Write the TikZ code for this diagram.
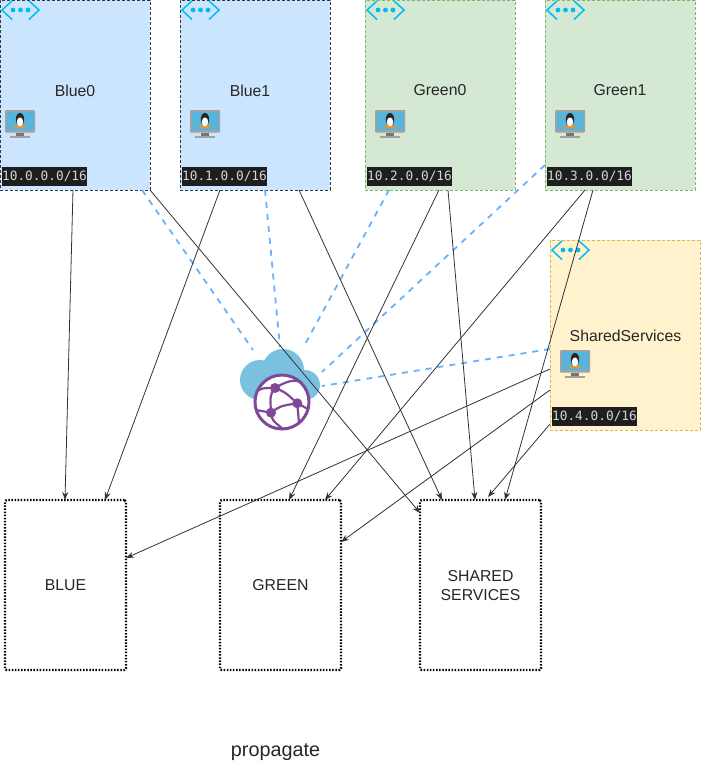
\documentclass[tikz,border=0pt]{standalone}
\usepackage{fontspec}
\setmainfont{Liberation Sans}
\newfontfamily\cidrfont{DejaVu Sans Mono}
\usetikzlibrary{arrows.meta,calc}
\definecolor{bluefill}{HTML}{CCE5FF}
\definecolor{blueedge}{HTML}{36393D}
\definecolor{greenfill}{HTML}{D5E8D4}
\definecolor{greenedge}{HTML}{82B366}
\definecolor{yellowfill}{HTML}{FFF2CC}
\definecolor{yellowedge}{HTML}{D6B656}
\definecolor{linkgrey}{HTML}{333333}
\definecolor{peerblue}{HTML}{66B2FF}
\definecolor{vnetcyan}{HTML}{00BCF2}
\definecolor{cloudblue}{HTML}{7AC1E0}
\definecolor{globepurple}{HTML}{804998}
\definecolor{termbg}{HTML}{1E1E1E}
\definecolor{termfg}{HTML}{D4D4D4}
\definecolor{bezel}{HTML}{A0A1A2}
\definecolor{screenblue}{HTML}{59B4D9}
\definecolor{standgrey}{HTML}{767676}
\definecolor{tuxfoot}{HTML}{E8962A}
\tikzset{
  x=1pt,y=-1pt,
  vnetbox/.style={rectangle,minimum width=150pt,minimum height=190pt,outer sep=0pt,inner sep=0pt,line width=0.8pt,dash pattern=on 3pt off 2pt,anchor=north west,align=center},
  bluebox/.style={vnetbox,fill=bluefill,draw=blueedge},
  greenbox/.style={vnetbox,fill=greenfill,draw=greenedge},
  yellowbox/.style={vnetbox,fill=yellowfill,draw=yellowedge},
  groupbox/.style={rectangle,rounded corners=1.5pt,minimum width=121pt,minimum height=170pt,outer sep=0pt,inner sep=0pt,draw=black,line width=2.4pt,dash pattern=on 1.5pt off 1.6pt,anchor=north west,align=center,font=\fontsize{15.8}{19}\selectfont,text=black!85},
  grouptext/.style={align=center,inner sep=0pt,font=\fontsize{15.8}{19}\selectfont,text=black!85},
  vnettitle/.style={font=\fontsize{15.8}{18}\selectfont,text=black!85,inner sep=0pt},
  cidr/.style={anchor=north west,fill=termbg,text=termfg,font=\cidrfont\fontsize{12.8}{14}\selectfont,inner sep=0pt,minimum width=85pt,minimum height=19pt,outer sep=0pt},
  link/.style={draw=linkgrey,line width=0.8pt,-{Stealth[length=8pt,width=6pt]}},
  peer/.style={draw=peerblue,line width=1.8pt,dash pattern=on 6pt off 6pt},
  chevron/.style={draw=vnetcyan,line width=1.5pt,line join=miter},
  vnetmark/.pic={
    \draw[chevron] (12,1) -- (2,10) -- (12,19.5);
    \draw[chevron] (29,1) -- (39,10) -- (29,19.5);
    \fill[vnetcyan] (13,10) circle (2.4) (20.5,10) circle (2.4) (28,10) circle (2.4);
  },
  linuxvm/.pic={
    \fill[bezel,rounded corners=1pt] (0,0) rectangle (30,22.5);
    \fill[screenblue] (1.5,1.5) rectangle (28.5,19.5);
    \fill[standgrey] (11,22.5) rectangle (19,26);
    \fill[bezel] (5,26) rectangle (25,27.7);
    \fill[black!85] (15,9.5) ellipse (4.2 and 6.5);
    \fill[white] (15,12) ellipse (3.2 and 4.6);
    \fill[tuxfoot] (12,17) ellipse (3 and 1.3) (18,17) ellipse (3 and 1.3);
  },
}
\begin{document}
\begin{tikzpicture}
\useasboundingbox (0,0) rectangle (701,766);
% vnet boxes
\node[bluebox] (blue0) at (0,0) {};
\node[bluebox] (blue1) at (180,0) {};
\node[greenbox] (green0) at (365,0) {};
\node[greenbox] (green1) at (545,0) {};
\node[yellowbox] (shared) at (550,240) {};
% titles
\node[vnettitle] (t0) at (75,90.5) {Blue0};
\node[vnettitle] (t1) at (250,90.5) {Blue1};
\node[vnettitle] (t2) at (440,90.5) {Green0};
\node[vnettitle] (t3) at (620,90.5) {Green1};
\node[vnettitle] (t4) at (625.5,335.5) {SharedServices};
% address labels
\node[cidr] (c0) at (2,167) {10.0.0.0/16};
\node[cidr] (c1) at (182,167) {10.1.0.0/16};
\node[cidr] (c2) at (367,167) {10.2.0.0/16};
\node[cidr] (c3) at (547,167) {10.3.0.0/16};
\node[cidr] (c4) at (552,407) {10.4.0.0/16};
% icons
\pic at (0,0) {vnetmark};
\pic at (180,0) {vnetmark};
\pic at (365,0) {vnetmark};
\pic at (545,0) {vnetmark};
\pic at (550,240) {vnetmark};
\pic at (5,110) {linuxvm};
\pic at (190,110) {linuxvm};
\pic at (375,110) {linuxvm};
\pic at (555,110) {linuxvm};
\pic at (560,350) {linuxvm};
% route tables
\node[groupbox] (blue) at (5,500) {};
\node[groupbox] (green) at (220,500) {};
\node[groupbox] (services) at (420,500) {};
\node[grouptext] (bluet) at (65.5,585.5) {BLUE};
\node[grouptext] (greent) at (280.5,585.5) {GREEN};
\node[grouptext] (servicest) at (480.5,585.5) {SHARED\\SERVICES};
\node[font=\fontsize{19.8}{22}\selectfont,text=black!85,inner sep=0pt] (prop) at (275.5,752) {propagate};
% virtual WAN hub
\node[minimum width=80pt,minimum height=80pt,inner sep=0pt,outer sep=0pt] (hub) at (280,390) {};
\fill[cloudblue] (260,380) circle (20) (283,370) circle (21) (305,385) circle (15) (262,385) rectangle (305,400);
\begin{scope}[draw=globepurple]
\fill[white] (282,402) circle (27);
\draw[line width=3pt] (282,402) circle (27);
\coordinate (h1) at (275,388);
\coordinate (h2) at (297.3,403.3);
\coordinate (h3) at (271,412.7);
\draw[line width=2.2pt] (256,392) .. controls (262,388) .. (h1);
\draw[line width=2.2pt] (h1) .. controls (285,382) and (295,378) .. (302,383);
\draw[line width=2.2pt] (h1) .. controls (285,392) .. (h2);
\draw[line width=2.2pt] (h1) .. controls (270,395) .. (h3);
\draw[line width=2.2pt] (h3) .. controls (280,406) .. (h2);
\draw[line width=2.2pt] (h2) -- (308,409);
\draw[line width=2.2pt] (h3) .. controls (272,420) .. (283,429);
\draw[line width=2.2pt] (h2) .. controls (298,412) .. (299,423);
\draw[line width=2.2pt] (h3) -- (256,410);
\fill[globepurple] (h1) circle (5) (h2) circle (5) (h3) circle (5);
\end{scope}
% peering
\draw[peer] ([xshift=142pt]blue0.south west) -- ([xshift=-27pt,yshift=40pt]hub.center);
\draw[peer] ([xshift=85pt]blue1.south west) -- ([xshift=0pt,yshift=43pt]hub.center);
\draw[peer] ([xshift=24pt]green0.south west) -- ([xshift=23pt,yshift=42pt]hub.center);
\draw[peer] ([yshift=25pt]green1.south west) -- ([xshift=42pt,yshift=18pt]hub.center);
\draw[peer] ([yshift=81pt]shared.south west) -- ([xshift=42pt,yshift=4pt]hub.center);
% propagation
\draw[link] ([xshift=73pt]blue0.south west) -- ([xshift=60pt]blue.north west);
\draw[link] (blue0.south east) -- ([yshift=-13pt]services.north west);
\draw[link] ([xshift=40pt]blue1.south west) -- ([xshift=100pt]blue.north west);
\draw[link] ([xshift=119pt]blue1.south west) -- ([xshift=22pt]services.north west);
\draw[link] ([xshift=74pt]green0.south west) -- ([xshift=69pt]green.north west);
\draw[link] ([xshift=83pt]green0.south west) -- ([xshift=55pt]services.north west);
\draw[link] ([xshift=40pt]green1.south west) -- ([xshift=105pt]green.north west);
\draw[link] ([xshift=48pt]green1.south west) -- ([xshift=85pt]services.north west);
\draw[link] ([yshift=-129pt]shared.north west) -- ([yshift=-58pt]blue.north east);
\draw[link] ([yshift=-150pt]shared.north west) -- ([yshift=-42pt]green.north east);
\draw[link] ([yshift=-184pt]shared.north west) -- ([xshift=68pt,yshift=3pt]services.north west);
\end{tikzpicture}
\end{document}
